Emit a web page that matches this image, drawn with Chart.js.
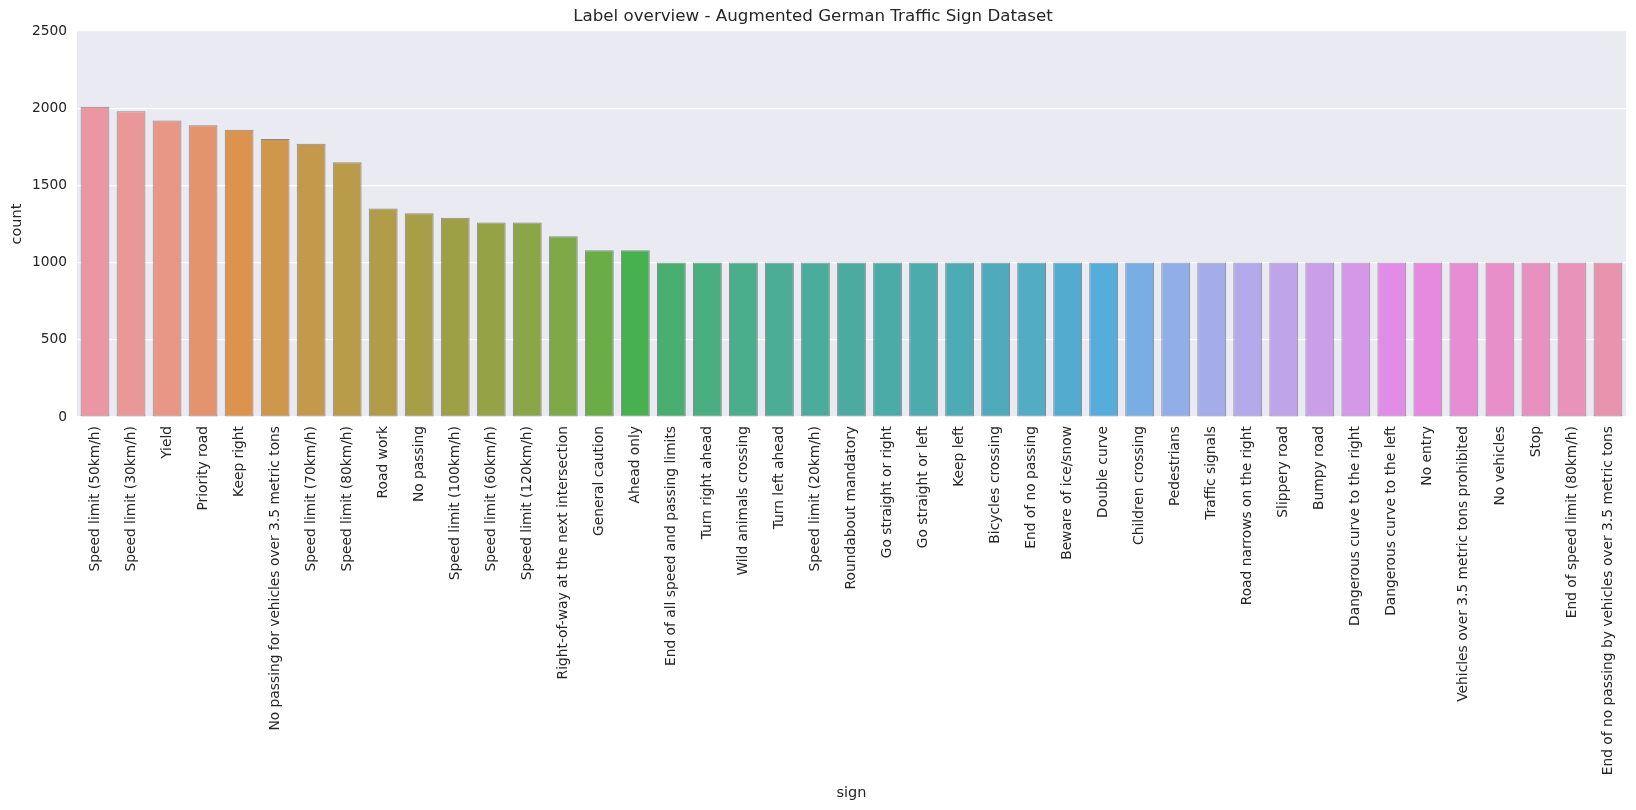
<!DOCTYPE html>
<html>
<head>
<meta charset="utf-8">
<script src="https://cdn.jsdelivr.net/npm/chart.js@4.4.1/dist/chart.umd.min.js"></script>
<style>
  html,body{margin:0;padding:0;background:#fff;}
  #wrap{width:1636px;height:810px;}
</style>
</head>
<body>
<div id="wrap"><canvas id="chart" width="1636" height="810"></canvas></div>
<script>
// sign names, sorted by count (descending)
const signs = [
  'Speed limit (50km/h)','Speed limit (30km/h)','Yield','Priority road','Keep right',
  'No passing for vehicles over 3.5 metric tons','Speed limit (70km/h)','Speed limit (80km/h)',
  'Road work','No passing','Speed limit (100km/h)','Speed limit (60km/h)','Speed limit (120km/h)',
  'Right-of-way at the next intersection','General caution','Ahead only',
  'End of all speed and passing limits','Turn right ahead','Wild animals crossing','Turn left ahead',
  'Speed limit (20km/h)','Roundabout mandatory','Go straight or right','Go straight or left',
  'Keep left','Bicycles crossing','End of no passing','Beware of ice/snow','Double curve',
  'Children crossing','Pedestrians','Traffic signals','Road narrows on the right','Slippery road',
  'Bumpy road','Dangerous curve to the right','Dangerous curve to the left','No entry',
  'Vehicles over 3.5 metric tons prohibited','No vehicles','Stop','End of speed limit (80km/h)',
  'End of no passing by vehicles over 3.5 metric tons'
];
const counts = [
  2010,1980,1920,1890,1860,1800,1770,1650,1350,1320,1290,1260,1260,1170,1080,1080,
  1000,1000,1000,1000,1000,1000,1000,1000,1000,1000,1000,1000,1000,1000,1000,1000,
  1000,1000,1000,1000,1000,1000,1000,1000,1000,1000,1000
];
const yTicks = [0,500,1000,1500,2000,2500];

// --- husl palette (same maths as seaborn's husl module) ---
const M = [[3.2406,-1.5372,-0.4986],[-0.9689,1.8758,0.0415],[0.0557,-0.2040,1.0570]];
function maxChroma(L,H){
  const hr=H*Math.PI/180, sinH=Math.sin(hr), cosH=Math.cos(hr);
  const sub1=Math.pow(L+16,3)/1560896, sub2=sub1>0.008856?sub1:L/903.3;
  let res=Infinity;
  M.forEach(([m1,m2,m3])=>{
    const top=(0.99915*m1+1.05122*m2+1.14460*m3)*sub2;
    const rb=0.86330*m3-0.17266*m2, lb=0.12949*m3-0.38848*m1;
    const bottom=(rb*sinH+lb*cosH)*sub2;
    [0,1].forEach(t=>{
      const C=L*(top-1.05122*t)/(bottom+0.17266*sinH*t);
      if(C>0&&C<res) res=C;
    });
  });
  return res;
}
function huslToRgb(H,S,L){
  const C=maxChroma(L,H)/100*S, hr=H*Math.PI/180;
  const U=Math.cos(hr)*C, V=Math.sin(hr)*C;
  const t=(L+16)/116, Y=Math.pow(t,3)>0.008856?Math.pow(t,3):(116*t-16)/903.3;
  const vu=U/(13*L)+0.19784, vv=V/(13*L)+0.46834;
  const X=-(9*Y*vu)/((vu-4)*vv-vu*vv);
  const Z=(9*Y-15*vv*Y-vv*X)/(3*vv);
  return M.map(r=>{
    const c=r[0]*X+r[1]*Y+r[2]*Z;
    const v=c<=0.0031308?12.92*c:1.055*Math.pow(c,1/2.4)-0.055;
    return Math.min(1,Math.max(0,v));
  });
}
function desaturate([r,g,b],p){
  const mx=Math.max(r,g,b), mn=Math.min(r,g,b), l=(mx+mn)/2;
  let h=0,s=0;
  if(mx!==mn){
    const d=mx-mn;
    s=l<=0.5?d/(mx+mn):d/(2-mx-mn);
    if(mx===r) h=((g-b)/d)/6; else if(mx===g) h=(2+(b-r)/d)/6; else h=(4+(r-g)/d)/6;
    h=((h%1)+1)%1;
  }
  s*=p;
  const m2=l<=0.5?l*(1+s):l+s-l*s, m1=2*l-m2;
  const v=(hh)=>{hh=((hh%1)+1)%1;
    if(hh<1/6) return m1+(m2-m1)*hh*6;
    if(hh<0.5) return m2;
    if(hh<2/3) return m1+(m2-m1)*(2/3-hh)*6;
    return m1;};
  return s===0?[l,l,l]:[v(h+1/3),v(h),v(h-1/3)];
}
const n=signs.length;
const barColors=signs.map((_,i)=>{
  const h=((i/n+0.01)%1)*359;
  const rgb=desaturate(huslToRgb(h,90*0.99,70*0.99),0.75);
  return 'rgb('+rgb.map(c=>Math.round(c*255)).join(',')+')';
});

const TXT='#262626';
const plotBg={
  id:'plotBg',
  beforeDraw(c){
    const a=c.chartArea, ctx=c.ctx;
    ctx.save(); ctx.fillStyle='#EAEAF2';
    ctx.fillRect(a.left,a.top,a.right-a.left,a.bottom-a.top);
    ctx.restore();
  }
};

Chart.defaults.font.family='"DejaVu Sans", sans-serif';
Chart.defaults.color=TXT;

new Chart(document.getElementById('chart'),{
  type:'bar',
  plugins:[plotBg],
  data:{labels:signs,datasets:[{
    data:counts,backgroundColor:barColors,
    borderColor:'rgba(0,0,0,0.42)',borderWidth:1,borderSkipped:false,
    categoryPercentage:1.0,barPercentage:0.8
  }]},
  options:{
    responsive:false,animation:false,devicePixelRatio:1,
    layout:{padding:{left:0,right:10,top:0,bottom:0}},
    plugins:{
      legend:{display:false},tooltip:{enabled:false},
      title:{display:true,text:'Label overview - Augmented German Traffic Sign Dataset',
        color:TXT,font:{size:16.7,weight:'normal'},padding:{top:7,bottom:4}}
    },
    scales:{
      x:{
        grid:{display:false,drawTicks:false},border:{display:false},
        ticks:{autoSkip:false,minRotation:90,maxRotation:90,padding:9,color:TXT,font:{size:13.8}},
        title:{display:true,text:'sign',color:TXT,font:{size:14.5},padding:{top:0,bottom:8}},
        afterFit(s){s.height=393;}
      },
      y:{
        min:0,max:2500,
        afterBuildTicks(s){s.ticks=yTicks.map(v=>({value:v}));},
        grid:{color:'#ffffff',lineWidth:1.2,drawTicks:false},border:{display:false},
        ticks:{padding:10,color:TXT,font:{size:13.8},callback:v=>String(v)},
        title:{display:true,text:'count',color:TXT,font:{size:14.5},padding:{top:9,bottom:0}},
        afterFit(s){s.width=77;}
      }
    }
  }
});
</script>
</body>
</html>
